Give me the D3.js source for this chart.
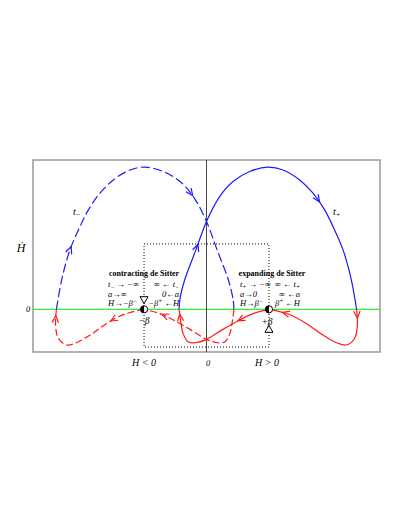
<!DOCTYPE html>
<html>
<head>
<meta charset="utf-8">
<script src="https://cdn.jsdelivr.net/npm/d3@7"></script>
<style>
body { margin: 0; background: #fff; }
text { font-family: "Liberation Serif", "DejaVu Serif", serif; }
</style>
</head>
<body>
<div id="chart"></div>
<script>
var svgWidth = 408;
var svgHeight = 528;

var beta = 0.36;

// t_- trajectory (dashed): upper arc and the two lower loops, points are [H, Hdot]
var minusUpper = [[-0.865, 0], [-0.835, 0.206], [-0.787, 0.418], [-0.729, 0.582], [-0.681, 0.699],
    [-0.614, 0.817], [-0.537, 0.910], [-0.441, 0.980], [-0.354, 1.0], [-0.249, 0.969],
    [-0.153, 0.899], [-0.076, 0.793], [0, 0.618], [0.061, 0.418], [0.126, 0.206], [0.154, 0.065], [0.158, 0]];
var minusLoopLeft = [[-0.36, 0], [-0.47, -0.033], [-0.575, -0.099], [-0.671, -0.181], [-0.75, -0.235],
    [-0.806, -0.251], [-0.854, -0.203], [-0.870, -0.111], [-0.865, 0]];
var minusLoopRight = [[0.158, 0], [0.150, -0.075], [0.135, -0.169], [0.107, -0.228], [0.066, -0.235],
    [0, -0.211], [-0.095, -0.141], [-0.191, -0.075], [-0.268, -0.030], [-0.36, 0]];

// t_+ trajectory (solid)
var plusUpper = [[-0.158, 0], [-0.154, 0.065], [-0.126, 0.206], [-0.061, 0.418], [0, 0.618],
    [0.076, 0.793], [0.153, 0.899], [0.249, 0.969], [0.354, 1.0], [0.441, 0.980], [0.537, 0.910],
    [0.614, 0.817], [0.681, 0.699], [0.729, 0.582], [0.787, 0.418], [0.835, 0.206], [0.865, 0]];
var plusLoopLeft = [[0.36, 0], [0.268, -0.030], [0.191, -0.075], [0.095, -0.141], [0, -0.211],
    [-0.066, -0.235], [-0.107, -0.228], [-0.135, -0.169], [-0.150, -0.075], [-0.158, 0]];
var plusLoopRight = [[0.865, 0], [0.870, -0.111], [0.854, -0.203], [0.806, -0.251], [0.75, -0.235],
    [0.671, -0.181], [0.575, -0.099], [0.47, -0.033], [0.36, 0]];

var boxRange = [-0.265, 0.46];

var contractingTitle = "contracting de Sitter";
var contractingLeft = ["t_{−} → −∞", "a→∞", "H→−β^{−}"];
var contractingRight = ["∞ ← t_{−}", "0←a", "−β^{+} ←H"];
var expandingTitle = "expanding de Sitter";
var expandingLeft = ["t_{+} → −∞", "a→0", "H→β^{−}"];
var expandingRight = ["∞ ← t_{+}", "∞ ←a", "β^{+} ←H"];

var svg = d3.select("#chart").append("svg")
    .attr("width", svgWidth)
    .attr("height", svgHeight);

var x = d3.scaleLinear().domain([-1, 1]).range([33, 380]);
var y = d3.scaleLinear().domain([-0.30, 1.05]).range([352, 160]);

var line = d3.line()
    .x(d => x(d[0]))
    .y(d => y(d[1]))
    .curve(d3.curveCatmullRom.alpha(0.5));

// frame
svg.append("rect")
    .attr("x", x(-1)).attr("y", y(1.05))
    .attr("width", x(1) - x(-1)).attr("height", y(-0.30) - y(1.05))
    .attr("fill", "none").attr("stroke", "#999").attr("stroke-width", 1.5);

// dotted box
svg.append("rect")
    .attr("x", x(-beta)).attr("y", y(boxRange[1]))
    .attr("width", x(beta) - x(-beta)).attr("height", y(boxRange[0]) - y(boxRange[1]))
    .attr("fill", "none").attr("stroke", "#000").attr("stroke-width", 1)
    .attr("stroke-dasharray", "1,2");

// axes
svg.append("line")
    .attr("x1", x(-1)).attr("x2", x(1)).attr("y1", y(0)).attr("y2", y(0))
    .attr("stroke", "#33ee33").attr("stroke-width", 1.2);
svg.append("line")
    .attr("x1", x(0)).attr("x2", x(0)).attr("y1", y(1.05)).attr("y2", y(-0.30))
    .attr("stroke", "#444").attr("stroke-width", 1);

function drawPath(data, color, dash, arrows) {
    var p = svg.append("path")
        .attr("d", line(data))
        .attr("fill", "none")
        .attr("stroke", color)
        .attr("stroke-width", 1.2)
        .attr("stroke-dasharray", dash);
    var node = p.node();
    var len = node.getTotalLength();
    arrows.forEach(function (f) {
        var s = f * len;
        var a = node.getPointAtLength(Math.max(0, s - 1));
        var b = node.getPointAtLength(Math.min(len, s + 1));
        var c = node.getPointAtLength(s);
        var ang = Math.atan2(b.y - a.y, b.x - a.x) * 180 / Math.PI;
        svg.append("path")
            .attr("d", "M-7,-3.2L0,0L-7,3.2")
            .attr("transform", `translate(${c.x},${c.y}) rotate(${ang})`)
            .attr("fill", "none")
            .attr("stroke", color)
            .attr("stroke-width", 1.2);
    });
}

var blue = "#1a1aff";
var red = "#ff1a1a";
drawPath(minusUpper, blue, "9,3.5", [0.18, 0.66]);
drawPath(minusLoopLeft, red, "7,3", [0.28, 0.95]);
drawPath(minusLoopRight, red, "7,3", [0.85]);
drawPath(plusUpper, blue, null, [0.19, 0.68]);
drawPath(plusLoopLeft, red, null, [0.27, 0.96]);
drawPath(plusLoopRight, red, null, [0.07, 0.89]);

// text with _{..} and ^{..}
function richText(g, str, px, py, size, anchor) {
    var t = g.append("text")
        .attr("x", px).attr("y", py)
        .attr("font-size", size)
        .attr("font-style", "italic")
        .attr("text-anchor", anchor || "start");
    var parts = str.split(/(_\{[^}]*\}|\^\{[^}]*\})/);
    var shift = 0;
    parts.forEach(function (s) {
        if (!s) return;
        if (s[0] === "_" || s[0] === "^") {
            var d = s[0] === "_" ? 2 : -3;
            t.append("tspan").attr("dy", d - shift).attr("font-size", size * 0.7).text(s.slice(2, -1));
            shift = d;
        } else {
            t.append("tspan").attr("dy", -shift).text(s);
            shift = 0;
        }
    });
    return t;
}

var labels = svg.append("g");

labels.append("text").attr("x", 21).attr("y", 252).attr("font-size", 12)
    .attr("font-style", "italic").attr("text-anchor", "middle").text("\u1E22");
labels.append("text").attr("x", 28).attr("y", 312).attr("font-size", 8.5)
    .attr("font-style", "italic").attr("text-anchor", "middle").text("0");
labels.append("text").attr("x", x(0) + 1.5).attr("y", 366).attr("font-size", 8.5)
    .attr("font-style", "italic").attr("text-anchor", "middle").text("0");
labels.append("text").attr("x", x(-beta)).attr("y", 366).attr("font-size", 10)
    .attr("font-style", "italic").attr("text-anchor", "middle").text("H < 0");
labels.append("text").attr("x", x(beta) - 2).attr("y", 366).attr("font-size", 10)
    .attr("font-style", "italic").attr("text-anchor", "middle").text("H > 0");

richText(labels, "t_{−}", 73, 215, 10);
richText(labels, "t_{+}", 333, 215, 10);

function block(cx, title, left, right, lx, rx) {
    labels.append("text").attr("x", cx).attr("y", 276).attr("font-size", 8)
        .attr("font-weight", "bold").attr("text-anchor", "middle").text(title);
    left.forEach((s, i) => richText(labels, s, lx, 287 + i * 9.5, 8.5));
    right.forEach((s, i) => richText(labels, s, rx, 287 + i * 9.5, 8.5, "end"));
}
block(x(-beta), contractingTitle, contractingLeft, contractingRight, x(-beta) - 36, x(-beta) + 35);
block(x(beta) + 3, expandingTitle, expandingLeft, expandingRight, x(beta) - 29, x(beta) + 31);

labels.append("text").attr("x", x(-beta)).attr("y", 323.5).attr("font-size", 9.5)
    .attr("font-style", "italic").attr("text-anchor", "middle").text("−β");
labels.append("text").attr("x", x(beta) - 2).attr("y", 325).attr("font-size", 9.5)
    .attr("font-style", "italic").attr("text-anchor", "middle").text("+β");

// fixed points
[-beta, beta].forEach(function (b) {
    var cx = x(b), cy = y(0), r = 3.6;
    svg.append("circle").attr("cx", cx).attr("cy", cy).attr("r", r)
        .attr("fill", "#fff").attr("stroke", "#000").attr("stroke-width", 1);
    svg.append("path")
        .attr("d", `M${cx},${cy - r}A${r},${r} 0 0 0 ${cx},${cy + r}Z`)
        .attr("fill", "#000");
});

var tri = d3.symbol(d3.symbolTriangle, 28);
svg.append("path").attr("d", tri())
    .attr("transform", `translate(${x(-beta)},299) rotate(180)`)
    .attr("fill", "#fff").attr("stroke", "#000").attr("stroke-width", 1);
svg.append("path").attr("d", tri())
    .attr("transform", `translate(${x(beta)},330)`)
    .attr("fill", "#fff").attr("stroke", "#000").attr("stroke-width", 1);
</script>
</body>
</html>
